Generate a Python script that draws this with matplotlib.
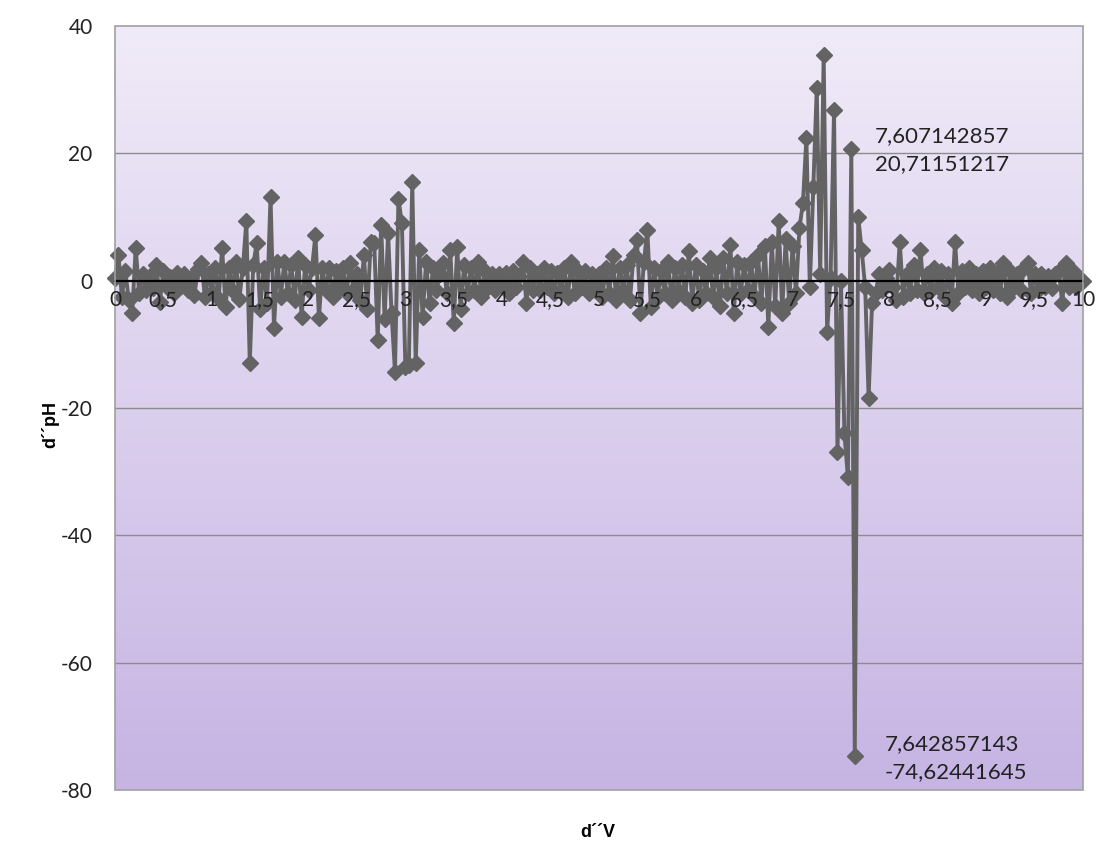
import numpy as np
import matplotlib
matplotlib.use("Agg")
import matplotlib.pyplot as plt
from matplotlib.patches import Rectangle
from matplotlib.ticker import FuncFormatter

# ---- data ----
n_points = 281
x_step_num = 1
x_step_den = 28
volume = [i * x_step_num / x_step_den for i in range(n_points)]

d2pH = [
    0.5, 4.0, -2.5, 1.5, -3.0, -5.1, 5.2, -2.0, 1.0, -1.5,
    0.8, -1.2, 2.5, -3.3, 1.5, -1.0, 0.6, -2.0, 1.2, -0.8,
    1.0, -1.5, 0.5, -2.2, 1.8, 2.8, -2.5, 1.0, -1.8, 2.0,
    -2.8, 5.1, -4.1, 2.0, -1.5, 3.0, -2.8, 2.0, 9.3, -12.9,
    2.5, 5.9, -4.5, 2.0, -3.5, 13.2, -7.4, 3.0, -2.5, 3.0,
    -2.0, 2.5, -3.0, 3.5, -5.7, 2.5, -1.5, 2.0, 7.2, -5.9,
    2.0, -1.5, 2.0, -2.5, 1.5, -1.0, 2.0, -2.0, 2.8, -1.5,
    1.0, -3.0, 4.0, -4.5, 6.1, 5.9, -9.3, 8.7, -6.0, 7.5,
    -5.0, -14.3, 12.9, 9.0, -13.5, -13.3, 15.5, -13.0, 4.8, -5.7,
    3.0, -3.5, 2.0, -1.5, 1.0, 2.8, -2.0, 4.8, -6.7, 5.3,
    -4.5, 2.5, -2.0, 2.0, -1.5, 3.0, -2.5, 1.5, -1.0, 1.0,
    -1.5, 1.0, -0.8, 1.2, -2.0, 1.5, -1.0, 0.8, 3.0, -3.5,
    2.0, -1.5, 1.0, -1.5, 2.0, -1.0, 1.5, -2.0, 1.2, -1.5,
    2.0, -2.5, 3.0, -2.0, 1.5, -1.0, 1.5, -2.0, 1.0, -1.5,
    1.0, -2.5, 2.0, -2.0, 3.8, -3.0, 2.0, -1.5, 2.5, -3.0,
    4.0, 6.4, -5.0, 3.0, 8.0, -4.1, 2.0, -2.5, 1.5, -2.0,
    3.0, -3.0, 2.0, -1.5, 2.5, -2.5, 4.6, -3.5, 2.5, -3.0,
    1.5, -2.0, 3.5, -2.5, 2.0, -4.0, 3.5, -2.0, 5.6, -5.1,
    3.0, -2.0, 2.5, -1.5, 3.0, -2.5, 4.0, -3.5, 5.5, -7.2,
    6.0, -4.0, 9.3, -5.0, 6.5, -3.5, 5.5, -2.0, 8.3, 12.2,
    22.4, -1.0, 14.7, 30.2, 1.0, 35.4, -8.0, 0.5, 26.8, -26.9,
    0.0, -24.0, -30.8, 20.71151217, -74.62441645, 10.0, 4.8, -1.0, -18.4, -3.5,
    -2.0, 1.0, -1.5, 0.5, 1.7, -1.0, -3.0, 6.1, -2.5, 1.0,
    -2.0, 2.5, -1.5, 4.8, -2.0, 1.0, -1.5, 2.0, -1.0, 1.5,
    -2.5, 1.0, -3.5, 6.1, -2.0, 1.5, -1.0, 2.0, -1.5, 1.0,
    -2.0, 1.5, -1.0, 2.0, -1.5, 1.0, -2.0, 2.8, -2.5, 1.5,
    -1.0, 1.0, -1.5, 2.0, 2.8, -2.0, 1.0, -1.5, 1.0, -1.0,
    0.8, -1.2, 1.0, 1.5, -3.5, 2.8, -1.0, 1.5, -1.0, 0.5,
    0.0,
]

x_ticks = [0, 0.5, 1, 1.5, 2, 2.5, 3, 3.5, 4, 4.5, 5, 5.5, 6, 6.5, 7, 7.5, 8, 8.5, 9, 9.5, 10]
y_ticks = [-80, -60, -40, -20, 0, 20, 40]
max_label = ["7,607142857", "20,71151217"]
min_label = ["7,642857143", "-74,62441645"]
x_label = "d\u00b4\u00b4V"
y_label = "d\u00b4\u00b4pH"

# ---- figure ----
fig = plt.figure(figsize=(11, 8.48), dpi=100)
ax = fig.add_axes([0.1045, 0.0684, 0.88, 0.9009])
ax.set_xlim(0, 10)
ax.set_ylim(-80, 40)

# gradient background
grad = np.linspace(0, 1, 256).reshape(-1, 1)
top = np.array([240, 235, 248]) / 255
bot = np.array([198, 180, 227]) / 255
img = top[None, None, :] * (1 - grad[:, :, None]) + bot[None, None, :] * grad[:, :, None]
ax.imshow(img, extent=[0, 1, 0, 1], transform=ax.transAxes, aspect="auto", zorder=0)

# gridlines
for yv in y_ticks:
    if yv not in (0, 40, -80):
        ax.axhline(yv, color="#8c8c8c", lw=1.0, zorder=1)

# frame
for s in ax.spines.values():
    s.set_visible(False)
ax.add_patch(Rectangle((0, 0), 1, 1, transform=ax.transAxes, fill=False,
                       edgecolor="#a0a0a0", lw=1.2, zorder=5, clip_on=False))

# x-axis at y=0
ax.spines["bottom"].set_visible(True)
ax.spines["bottom"].set_position(("data", 0))
ax.spines["bottom"].set_color("black")
ax.spines["bottom"].set_linewidth(1.6)
ax.spines["bottom"].set_zorder(4)

ax.plot(volume, d2pH, color="#636363", lw=2.8, marker="D", markersize=8,
        markerfacecolor="#636363", markeredgecolor="#636363", zorder=3, clip_on=False)

fmt = FuncFormatter(lambda v, p: ("%g" % v).replace(".", ","))
ax.set_xticks(x_ticks)
ax.set_yticks(y_ticks)
ax.xaxis.set_major_formatter(fmt)
ax.yaxis.set_major_formatter(fmt)
ax.tick_params(axis="both", length=0, labelsize=15, colors="#222222")
ax.tick_params(axis="x", pad=7)
ax.tick_params(axis="y", pad=16)
for lab in ax.get_xticklabels() + ax.get_yticklabels():
    lab.set_family("Lato")
ax.xaxis.set_zorder(6)

fig.text(0.0455, 0.5, y_label, rotation=90, ha="center", va="center",
         fontsize=13, fontweight="bold", family="Liberation Sans")
fig.text(0.543, 0.018, x_label, ha="center", va="center",
         fontsize=13, fontweight="bold", family="Liberation Sans")

ax.text(7.85, 20.5, "\n".join(max_label), ha="left", va="center", fontsize=16,
        family="Lato", color="#222222", linespacing=1.45, zorder=6)
ax.text(7.95, -75.0, "\n".join(min_label), ha="left", va="center", fontsize=16,
        family="Lato", color="#222222", linespacing=1.45, zorder=6)

fig.savefig("out.png", dpi=100, facecolor="white")
